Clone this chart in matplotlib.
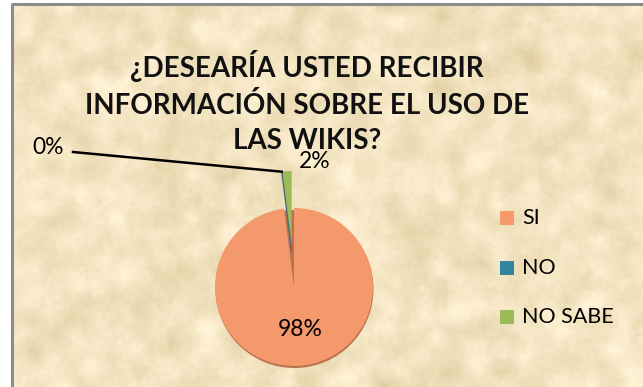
import matplotlib
matplotlib.use("Agg")
import matplotlib.pyplot as plt
from matplotlib.patches import Rectangle, Circle
import numpy as np

# Survey answers
categories = ["SI", "NO", "NO SABE"]
values = [98, 0, 2]
title = "¿DESEARÍA USTED RECIBIR\nINFORMACIÓN SOBRE EL USO DE\nLAS WIKIS?"

pie_colors = ["#F3996B", "#31859C", "#9BBB59"]
legend_colors = ["#F79A69", "#31859C", "#9BBB59"]

W, H = 643, 387
fig = plt.figure(figsize=(W / 100, H / 100), dpi=100)
fig.patch.set_facecolor("white")

ax = fig.add_axes([0, 0, 1, 1])

# Parchment fill: soft blotchy tone variation
rng = np.random.default_rng(7)
noise = rng.standard_normal((H, W))
fy = np.fft.fftfreq(H)[:, None]
fx = np.fft.fftfreq(W)[None, :]
blob = np.real(np.fft.ifft2(np.fft.fft2(noise) * np.exp(-(fx**2 + fy**2) * 2 * 22**2)))
fine = np.real(np.fft.ifft2(np.fft.fft2(noise[::-1]) * np.exp(-(fx**2 + fy**2) * 2 * 5**2)))
blob /= blob.std()
fine /= fine.std()
tone = 0.75 * blob + 0.25 * fine
base = np.array([243, 228, 193]) / 255.0
shift = np.array([6, 7, 10]) / 255.0
tex = np.clip(base[None, None, :] + tone[..., None] * shift[None, None, :], 0, 1)
ax.imshow(tex, extent=(12, W, -1, H - 4), origin="upper", zorder=0,
          interpolation="bilinear", aspect="auto")

ax.plot([12, 12], [-5, H - 4], color="#8C8C8C", lw=2.2, zorder=1,
        solid_capstyle="butt")
ax.plot([11, W + 5], [H - 4, H - 4], color="#8C8C8C", lw=2.2, zorder=1,
        solid_capstyle="butt")

# Pie
cx, cy, r = 294, 100, 79
ax.add_patch(Circle((cx + 0.5, cy - 2), r, facecolor="#B9714E",
                    edgecolor="none", zorder=1.5))
explode = [0, 0, 37]
wedges, _ = ax.pie(values, colors=pie_colors, startangle=90,
                   counterclock=False, center=(cx, cy), radius=r,
                   explode=explode, frame=True,
                   wedgeprops=dict(linewidth=0, zorder=2))
ax.set_xlim(0, W)
ax.set_ylim(0, H)
ax.set_aspect("equal")
ax.axis("off")

# Edge of the zero-size slice beside the exploded one
theta = np.deg2rad(90 + 360 * values[2] / 100)
mid = np.deg2rad(90 + 180 * values[2] / 100)
ox, oy = cx + explode[2] * np.cos(mid), cy + explode[2] * np.sin(mid)
tip_x = ox + r * np.cos(theta)
tip_y = oy + r * np.sin(theta)
ax.plot([ox, tip_x], [oy, tip_y], color="#4F6B78", lw=1.0, zorder=3)

font = "Lato"
# Percentage labels
ax.text(cx + 6, cy - 43, f"{values[0]}%", ha="center", va="center",
        fontsize=16.5, family=font, zorder=5)
ax.text(315, H - 161, f"{values[2]}%", ha="center", va="center",
        fontsize=16.5, family=font, zorder=5)
ax.text(48, H - 147, f"{values[1]}%", ha="center", va="center",
        fontsize=16.5, family=font, zorder=5)
ax.plot([73, tip_x], [H - 152, tip_y], color="black", lw=1.8, zorder=4)

# Title
ax.text(307, H - 102, title, ha="center", va="center", fontsize=20,
        fontweight="bold", family=font, linespacing=1.45, zorder=5,
        color="#111111")

# Legend
for i, (lab, col) in enumerate(zip(categories, legend_colors)):
    y = H - (218 + 49.5 * i)
    ax.add_patch(Rectangle((500, y - 7), 14, 14, facecolor=col,
                           edgecolor="none", zorder=5))
    ax.text(522, y, lab, ha="left", va="center", fontsize=15.5,
            family=font, zorder=5)

fig.savefig("out.png", dpi=100, facecolor=fig.get_facecolor())
